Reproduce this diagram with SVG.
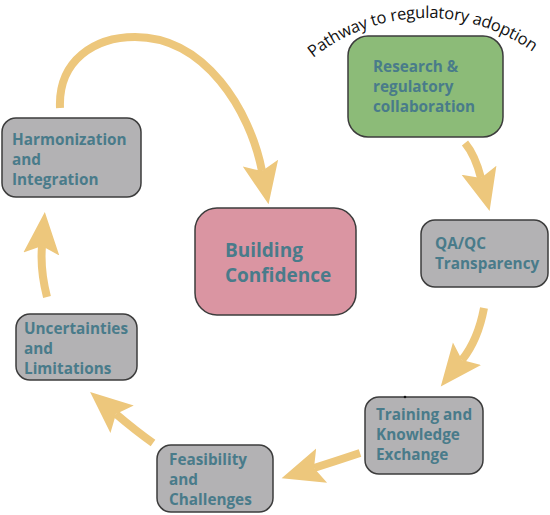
<svg xmlns="http://www.w3.org/2000/svg" width="550" height="515" viewBox="0 0 550 515">
<defs>
<style>
.box{fill:#b3b2b4;stroke:#3c3c3c;stroke-width:1.5}
.green{fill:#8cbb78}
.pink{fill:#da95a2}
.lbl{font-family:"Open Sans","Noto Sans",sans-serif;font-weight:700;font-size:15.3px;fill:#497b8a}
.big{font-size:19px}
.con{fill:none;stroke:#edc77c;stroke-width:8;stroke-linecap:butt;marker-end:url(#ah)}
.title{font-family:"Open Sans","Noto Sans",sans-serif;font-size:16.5px;fill:#111}
</style>
<marker id="ah" markerUnits="userSpaceOnUse" viewBox="0 -20 44 40" markerWidth="44" markerHeight="40" refX="8" refY="0" orient="auto">
<path d="M0,-18 L42,0 L0,18 L8,0 Z" fill="#edc77c"/>
</marker>
<path id="arc" d="M 313,58 A 182 182 0 0 1 548,64"/>
</defs>
<rect width="550" height="515" fill="#ffffff"/>
<g id="connectors">
<path class="con" d="M 60,108 C 58,60 95,37 135,37 C 205,37 250,110 262,171"/>
<path class="con" d="M 465,143 Q 475,155 481,178"/>
<path class="con" d="M 484,308 Q 478,340 462,360"/>
<path class="con" d="M 360,453 Q 336,461 314,468"/>
<path class="con" d="M 153,443 Q 136,431 116,414"/>
<path class="con" d="M 47,297 Q 40,270 42,246"/>
</g>
<text class="title" id="pathway-label"><textPath href="#arc" textLength="236">Pathway to regulatory adoption</textPath></text>
<g id="research">
<rect class="box green" x="348" y="36" width="155" height="101" rx="20"/>
<text class="lbl" x="373" y="72">Research &amp;</text>
<text class="lbl" x="373" y="92">regulatory</text>
<text class="lbl" x="373" y="112">collaboration</text>
</g>
<g id="qaqc">
<rect class="box" x="421" y="220" width="127" height="67" rx="14"/>
<text class="lbl" x="435" y="249">QA/QC</text>
<text class="lbl" x="435" y="269">Transparency</text>
</g>
<g id="training">
<rect class="box" x="365" y="397" width="118" height="77" rx="14"/>
<text class="lbl" x="376" y="420">Training and</text>
<text class="lbl" x="376" y="440">Knowledge</text>
<text class="lbl" x="376" y="460">Exchange</text>
<circle cx="405" cy="397" r="1.3" fill="#111"/>
</g>
<g id="feasibility">
<rect class="box" x="157" y="445" width="116" height="67" rx="14"/>
<text class="lbl" x="169" y="465">Feasibility</text>
<text class="lbl" x="169" y="485">and</text>
<text class="lbl" x="169" y="505">Challenges</text>
</g>
<g id="uncertainties">
<rect class="box" x="16" y="314" width="121" height="66" rx="14"/>
<text class="lbl" x="24" y="334">Uncertainties</text>
<text class="lbl" x="24" y="354">and</text>
<text class="lbl" x="24" y="374">Limitations</text>
</g>
<g id="harmonization">
<rect class="box" x="2" y="118" width="139" height="79" rx="14"/>
<text class="lbl" x="12" y="145">Harmonization</text>
<text class="lbl" x="12" y="165">and</text>
<text class="lbl" x="12" y="185">Integration</text>
</g>
<g id="building-confidence">
<rect class="box pink" x="195" y="208" width="161" height="107" rx="22"/>
<text class="lbl big" x="225" y="257">Building</text>
<text class="lbl big" x="225" y="282">Confidence</text>
</g>
</svg>
